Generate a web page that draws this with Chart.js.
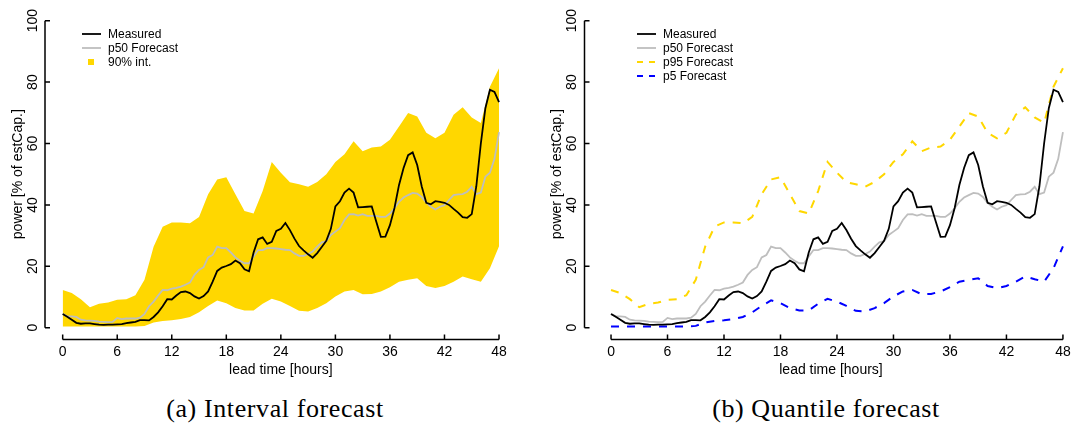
<!DOCTYPE html>
<html>
<head>
<meta charset="utf-8">
<script src="https://cdn.jsdelivr.net/npm/chart.js@4.4.0/dist/chart.umd.min.js"></script>
<style>
  body { margin: 0; background: #fff; width: 1078px; height: 432px; overflow: hidden; position: relative; font-family: "Liberation Sans", Arial, sans-serif; }
  .panel { position: absolute; top: 0; height: 385px; }
  #p1 { left: 0; width: 540px; }
  #p2 { left: 540px; width: 538px; }
  .cap { position: absolute; top: 394px; width: 400px; text-align: center; font-family: "Liberation Serif", "DejaVu Serif", serif; font-size: 26px; letter-spacing: 0.6px; color: #000; }
</style>
</head>
<body>
<div class="panel" id="p1"><canvas id="c1"></canvas></div>
<div class="panel" id="p2"><canvas id="c2"></canvas></div>
<div class="cap" style="left:75px">(a) Interval forecast</div>
<div class="cap" style="left:626px">(b) Quantile forecast</div>
<script>
// lead time grid (hours)
const leadHalf = [0,0.5,1,1.5,2,2.5,3,3.5,4,4.5,5,5.5,6,6.5,7,7.5,8,8.5,9,9.5,10,10.5,11,11.5,12,12.5,13,13.5,14,14.5,15,15.5,16,16.5,17,17.5,18,18.5,19,19.5,20,20.5,21,21.5,22,22.5,23,23.5,24,24.5,25,25.5,26,26.5,27,27.5,28,28.5,29,29.5,30,30.5,31,31.5,32,32.5,33,33.5,34,34.5,35,35.5,36,36.5,37,37.5,38,38.5,39,39.5,40,40.5,41,41.5,42,42.5,43,43.5,44,44.5,45,45.5,46,46.5,47,47.5,48];
const leadHour = [0,1,2,3,4,5,6,7,8,9,10,11,12,13,14,15,16,17,18,19,20,21,22,23,24,25,26,27,28,29,30,31,32,33,34,35,36,37,38,39,40,41,42,43,44,45,46,47,48];

// power [% of estCap.]
const measured = [4.5,3.6,2.6,1.6,1.3,1.4,1.4,1.2,1.0,0.9,1.0,1.0,1.1,1.2,1.5,1.7,1.9,2.5,2.5,2.4,
  3.5,5.0,7.0,9.3,9.2,10.5,11.6,11.8,11.3,10.2,9.5,10.3,11.8,15.0,18.5,19.6,20.1,20.7,21.9,21.0,
  19.0,18.4,24.5,28.8,29.4,27.3,28.0,31.5,32.2,34.1,31.8,29.0,26.6,25.2,23.9,22.8,24.3,26.3,28.3,32.2,
  39.5,41.2,44.0,45.3,44.0,39.2,39.3,39.4,39.5,34.5,29.6,29.7,33.4,39.0,46.5,52.0,56.2,57.1,53.0,46.0,
  40.7,40.2,41.2,41.0,40.7,40.0,38.7,37.5,36.0,35.8,37.0,46.0,60.0,71.5,77.5,76.8,73.5];
const p50 = [4.5,3.7,3.7,3.5,2.6,2.4,2.3,2.2,2.0,1.9,1.8,1.9,3.2,2.8,3.0,3.0,3.0,3.3,4.5,7.0,
  8.5,10.5,12.3,12.2,12.7,13.0,13.4,14.0,14.7,17.2,18.8,19.7,22.9,23.7,26.4,25.9,25.9,24.5,22.9,21.8,
  21.0,21.0,23.2,25.3,25.3,25.9,25.9,25.8,25.6,25.4,25.3,24.2,23.4,23.4,24.0,24.8,26.4,27.8,28.2,30.2,
  31.3,32.4,35.1,36.9,37.0,36.5,37.0,36.4,36.4,36.4,36.1,36.1,37.2,38.9,41.0,42.4,43.2,43.9,43.7,42.6,
  40.7,39.4,38.5,39.4,39.9,41.6,43.2,43.4,43.5,44.3,45.9,43.5,44.0,49.2,50.5,55.0,63.7];
const p95 = [12.3,11.3,9.3,6.7,7.8,8.2,9.1,9.3,10.6,15.6,26.4,32.9,34.3,34.3,34.0,36.1,43.5,48.3,49.0,43.5,
  38.0,37.2,44.5,54.0,50.5,47.4,46.7,45.9,47.5,50.0,54.0,56.5,60.7,57.5,58.7,59.0,61.2,65.5,69.9,68.8,
  63.5,61.7,63.5,69.4,71.8,68.5,66.7,78.5,84.5];
const p5 = [0.4,0.4,0.4,0.4,0.4,0.4,0.4,0.4,0.4,0.6,1.7,2.2,2.4,2.8,3.5,5.0,7.1,8.9,8.0,6.4,
  5.6,5.6,7.8,9.4,8.5,7.1,5.5,5.3,6.4,8.0,10.2,11.8,12.3,10.9,11.0,11.8,13.2,15.0,15.6,16.1,
  13.6,12.9,13.6,15.0,16.7,15.8,15.0,19.4,26.5];

const xTicks = [0, 6, 12, 18, 24, 30, 36, 42, 48];
const yTicks = [0, 20, 40, 60, 80, 100];

const GOLD = 'rgb(255,215,0)';
const GREY = '#bebebe';
const BLUE = '#0000ff';
const FONT = '"Liberation Sans", Arial, sans-serif';

function pts(xs, ys) {
  return xs.map((x, i) => ({ x: x, y: ys[i] }));
}

// R-style detached axes with inward ticks
const rAxes = {
  id: 'rAxes',
  afterDraw(chart) {
    const { ctx, chartArea, scales: { x, y } } = chart;
    ctx.save();
    ctx.strokeStyle = '#000';
    ctx.lineWidth = 1.5;
    ctx.beginPath();
    const yb = chartArea.bottom - 0.5;
    ctx.moveTo(x.getPixelForValue(xTicks[0]), yb);
    ctx.lineTo(x.getPixelForValue(xTicks[xTicks.length - 1]), yb);
    xTicks.forEach(v => {
      const px = x.getPixelForValue(v);
      ctx.moveTo(px, yb);
      ctx.lineTo(px, yb - 5);
    });
    const xl = chartArea.left + 0.5;
    ctx.moveTo(xl, y.getPixelForValue(yTicks[0]));
    ctx.lineTo(xl, y.getPixelForValue(yTicks[yTicks.length - 1]));
    yTicks.forEach(v => {
      const py = y.getPixelForValue(v);
      ctx.moveTo(xl, py);
      ctx.lineTo(xl + 5, py);
    });
    ctx.stroke();
    ctx.restore();
  }
};

// inset legend, top-left of the plot
const insetLegend = {
  id: 'insetLegend',
  afterDraw(chart, args, opts) {
    const ctx = chart.ctx;
    ctx.save();
    ctx.font = '12px ' + FONT;
    ctx.textBaseline = 'middle';
    ctx.fillStyle = '#000';
    opts.items.forEach((it, i) => {
      const yy = opts.y + i * opts.step;
      if (it.box) {
        ctx.fillStyle = it.color;
        ctx.fillRect(opts.x + 6, yy - 3, 6, 6);
      } else {
        ctx.strokeStyle = it.color;
        ctx.lineWidth = it.width;
        ctx.setLineDash(it.dash || []);
        ctx.beginPath();
        ctx.moveTo(opts.x, yy);
        ctx.lineTo(opts.x + 19, yy);
        ctx.stroke();
        ctx.setLineDash([]);
      }
      ctx.fillStyle = '#000';
      ctx.fillText(it.text, opts.x + 26, yy + 0.5);
    });
    ctx.restore();
  }
};

function makeChart(id, datasets, cfg, legendItems) {
  return new Chart(document.getElementById(id), {
    type: 'line',
    data: { datasets: datasets },
    options: {
      responsive: true,
      maintainAspectRatio: false,
      animation: false,
      parsing: true,
      layout: { padding: { left: 0, top: 7.7, right: cfg.padRight, bottom: 0 } },
      elements: { point: { radius: 0 }, line: { tension: 0 } },
      plugins: {
        legend: { display: false },
        tooltip: { enabled: false },
        insetLegend: { x: cfg.legX, y: 34, step: 14, items: legendItems }
      },
      scales: {
        x: {
          type: 'linear',
          min: cfg.xMin,
          max: cfg.xMax,
          grid: { display: false, drawTicks: false },
          border: { display: false },
          afterBuildTicks: s => { s.ticks = xTicks.map(v => ({ value: v })); },
          afterFit: s => { s.height = 385 - 340; },
          ticks: { color: '#000', padding: 4, maxRotation: 0, font: { family: FONT, size: 14 } },
          title: { display: true, text: 'lead time [hours]', color: '#000', padding: { top: 0, bottom: 6.6 }, font: { family: FONT, size: 14 } }
        },
        y: {
          min: -4,
          max: 104,
          grid: { display: false, drawTicks: false },
          border: { display: false },
          afterBuildTicks: s => { s.ticks = yTicks.map(v => ({ value: v })); },
          afterFit: s => { s.width = cfg.axisLeft; },
          ticks: { color: '#000', padding: 0, minRotation: 90, maxRotation: 90, crossAlign: 'center', font: { family: FONT, size: 14 } },
          title: { display: true, text: 'power [% of estCap.]', color: '#000', padding: { top: cfg.titlePad, bottom: 0 }, font: { family: FONT, size: 14 } }
        }
      }
    },
    plugins: [rAxes, insetLegend]
  });
}

// (a) interval forecast
makeChart('c1', [
  { label: 'Measured', data: pts(leadHalf, measured), borderColor: '#000', borderWidth: 1.8, fill: false, order: 0 },
  { label: 'p50 Forecast', data: pts(leadHalf, p50), borderColor: GREY, borderWidth: 1.8, fill: false, order: 1 },
  { label: '90% int.', data: pts(leadHour, p95), borderColor: GOLD, borderWidth: 0, backgroundColor: GOLD, fill: '+1', order: 2 },
  { label: 'p5', data: pts(leadHour, p5), borderColor: GOLD, borderWidth: 0, fill: false, order: 3 }
], { padRight: 22.8, axisLeft: 44.5, xMin: -2.0, xMax: 50, titlePad: 9.6, legX: 82 }, [
  { text: 'Measured', color: '#000', width: 1.8 },
  { text: 'p50 Forecast', color: GREY, width: 1.8 },
  { text: '90% int.', color: GOLD, box: true }
]);

// (b) quantile forecast
makeChart('c2', [
  { label: 'Measured', data: pts(leadHalf, measured), borderColor: '#000', borderWidth: 1.8, fill: false, order: 0 },
  { label: 'p50 Forecast', data: pts(leadHalf, p50), borderColor: GREY, borderWidth: 1.8, fill: false, order: 1 },
  { label: 'p95 Forecast', data: pts(leadHour, p95), borderColor: GOLD, borderWidth: 2, borderDash: [8, 8], fill: false, order: 2 },
  { label: 'p5 Forecast', data: pts(leadHour, p5), borderColor: BLUE, borderWidth: 2, borderDash: [8, 8], fill: false, order: 3 }
], { padRight: 0, axisLeft: 44, xMin: -2.87, xMax: 49.6, titlePad: 9, legX: 97 }, [
  { text: 'Measured', color: '#000', width: 1.8 },
  { text: 'p50 Forecast', color: GREY, width: 1.8 },
  { text: 'p95 Forecast', color: GOLD, width: 2, dash: [6, 6] },
  { text: 'p5 Forecast', color: BLUE, width: 2, dash: [6, 6] }
]);
</script>
</body>
</html>
